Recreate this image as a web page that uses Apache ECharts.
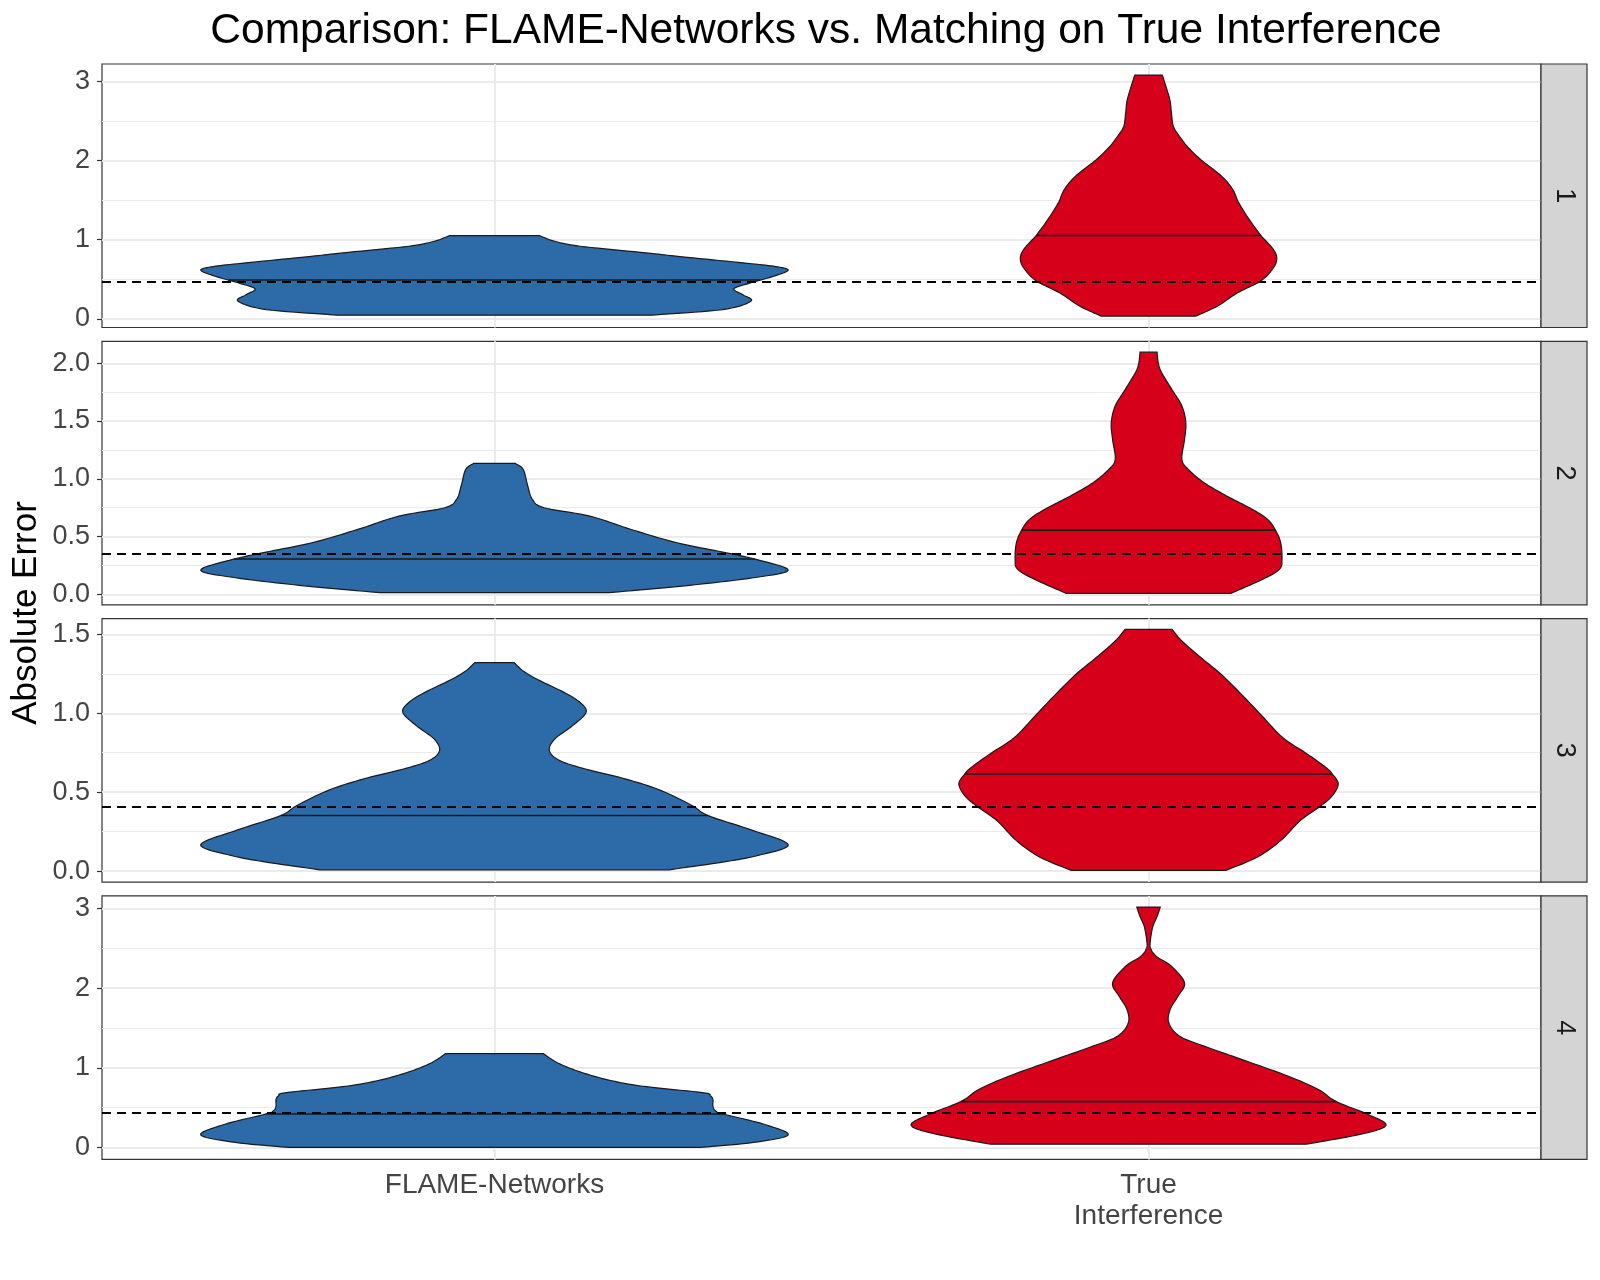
<!DOCTYPE html>
<html>
<head>
<meta charset="utf-8">
<title>Comparison: FLAME-Networks vs. Matching on True Interference</title>
<script src="https://cdn.jsdelivr.net/npm/echarts@6/dist/echarts.min.js"></script>
<style>
  html, body { margin: 0; padding: 0; background: #fff; }
  #chart { width: 1600px; height: 1280px; }
</style>
</head>
<body>
<div id="chart"></div>
<script>
// categories and facets
const groups = ['FLAME-Networks', 'True\nInterference'];
const facets = ['1', '2', '3', '4'];

// y ranges and tick labels per facet
const yMin = [-0.11, -0.09, -0.07, -0.15];
const yMax = [3.22, 2.19, 1.60, 3.16];
const yTicks = [[0, 1, 2, 3], [0, 0.5, 1, 1.5, 2], [0, 0.5, 1, 1.5], [0, 1, 2, 3]];
const yMinor = [[0.5, 1.5, 2.5], [0.25, 0.75, 1.25, 1.75], [0.25, 0.75, 1.25], [0.5, 1.5, 2.5]];
const tickDigits = [0, 1, 1, 0];

// dashed reference line and medians
const hline = [0.465, 0.355, 0.415, 0.426];
const flameMedian = [0.49, 0.306, 0.352, 0.42];
const trueMedian = [1.052, 0.556, 0.615, 0.576];

// violin outlines: error value and half width (in category units)
const flame1Y = [0.046, 0.117, 0.222, 0.303, 0.378, 0.45, 0.538, 0.614, 0.66, 0.707, 0.783, 0.833, 0.917, 0.98, 1.05];
const flame1W = [0.240, 0.349, 0.392, 0.380, 0.366, 0.39, 0.427, 0.449, 0.43, 0.38, 0.287, 0.232, 0.131, 0.092, 0.069];
const true1Y = [0.033, 0.159, 0.328, 0.475, 0.622, 0.749, 0.875, 1.052, 1.254, 1.465, 1.63, 1.80, 2.01, 2.18, 2.31, 2.43, 2.60, 2.75, 2.90, 3.08];
const true1W = [0.072, 0.105, 0.136, 0.171, 0.189, 0.196, 0.191, 0.172, 0.154, 0.138, 0.129, 0.112, 0.080, 0.059, 0.047, 0.038, 0.035, 0.033, 0.028, 0.021];

const flame2Y = [0.015, 0.072, 0.144, 0.21, 0.303, 0.366, 0.447, 0.562, 0.677, 0.75, 0.822, 0.937, 1.081, 1.133];
const flame2W = [0.174, 0.287, 0.396, 0.449, 0.40, 0.349, 0.279, 0.209, 0.146, 0.076, 0.058, 0.051, 0.044, 0.032];
const true2Y = [0.009, 0.13, 0.216, 0.303, 0.447, 0.556, 0.649, 0.735, 0.85, 0.966, 1.08, 1.168, 1.34, 1.485, 1.63, 1.77, 1.92, 2.0, 2.096];
const true2W = [0.126, 0.174, 0.2, 0.204, 0.202, 0.194, 0.182, 0.159, 0.12, 0.085, 0.061, 0.051, 0.055, 0.057, 0.051, 0.036, 0.020, 0.015, 0.013];

const flame3Y = [0.008, 0.057, 0.099, 0.168, 0.267, 0.351, 0.415, 0.51, 0.583, 0.647, 0.70, 0.762, 0.836, 0.92, 1.005, 1.068, 1.131, 1.216, 1.268, 1.321];
const flame3W = [0.267, 0.349, 0.403, 0.449, 0.388, 0.327, 0.302, 0.255, 0.201, 0.139, 0.10, 0.084, 0.092, 0.119, 0.14, 0.131, 0.107, 0.065, 0.044, 0.03];
const true3Y = [0.004, 0.088, 0.193, 0.32, 0.415, 0.478, 0.552, 0.615, 0.657, 0.741, 0.847, 0.994, 1.12, 1.247, 1.353, 1.458, 1.532];
const true3W = [0.118, 0.166, 0.202, 0.232, 0.264, 0.281, 0.29, 0.281, 0.271, 0.243, 0.205, 0.171, 0.142, 0.111, 0.080, 0.051, 0.036];

const flame4Y = [0.0, 0.063, 0.158, 0.292, 0.417, 0.46, 0.52, 0.60, 0.65, 0.689, 0.772, 0.856, 0.96, 1.065, 1.178];
const flame4W = [0.314, 0.396, 0.449, 0.412, 0.351, 0.338, 0.334, 0.334, 0.33, 0.318, 0.224, 0.17, 0.127, 0.096, 0.075];
const true4Y = [0.041, 0.167, 0.279, 0.417, 0.576, 0.731, 0.897, 1.107, 1.273, 1.40, 1.566, 1.733, 1.90, 2.068, 2.276, 2.40, 2.506, 2.61, 2.777, 2.90, 3.02];
const true4W = [0.241, 0.325, 0.363, 0.335, 0.287, 0.259, 0.213, 0.142, 0.085, 0.047, 0.031, 0.033, 0.045, 0.055, 0.035, 0.012, 0.003, 0.003, 0.0066, 0.013, 0.018];

const flameY = [flame1Y, flame2Y, flame3Y, flame4Y];
const flameW = [flame1W, flame2W, flame3W, flame4W];
const trueY = [true1Y, true2Y, true3Y, true4Y];
const trueW = [true1W, true2W, true3W, true4W];

// layout
const FONT = '"Liberation Sans", Arial, Helvetica, sans-serif';
const LEFT = 102, WIDTH = 1439, TOP0 = 64, STEP = 277.3, HEIGHT = 263.5, STRIP_W = 46;
const BLUE = '#2D6AA8', RED = '#D7001B', OUTLINE = '#1a1a1a', AXIS_TEXT = '#444';

// Catmull-Rom through pixel points, just for a smooth outline
function spline(pts, steps) {
    const out = [];
    for (let i = 0; i < pts.length - 1; i++) {
        const p0 = pts[Math.max(i - 1, 0)], p1 = pts[i], p2 = pts[i + 1], p3 = pts[Math.min(i + 2, pts.length - 1)];
        for (let s = 0; s < steps; s++) {
            const t = s / steps, t2 = t * t, t3 = t2 * t;
            const f = (k) => 0.5 * (2 * p1[k] + (p2[k] - p0[k]) * t +
                (2 * p0[k] - 5 * p1[k] + 4 * p2[k] - p3[k]) * t2 +
                (3 * p1[k] - p0[k] - 3 * p2[k] + p3[k]) * t3);
            out.push([f(0), f(1)]);
        }
    }
    out.push(pts[pts.length - 1]);
    return out;
}

function xAtY(path, y) {
    for (let i = 0; i < path.length - 1; i++) {
        const a = path[i], b = path[i + 1];
        if ((a[1] - y) * (b[1] - y) <= 0 && a[1] !== b[1]) {
            return a[0] + (b[0] - a[0]) * (y - a[1]) / (b[1] - a[1]);
        }
    }
    return path[0][0];
}

function violinSeries(panel, pos, ys, ws, median, color) {
    return {
        type: 'custom',
        xAxisIndex: panel,
        yAxisIndex: panel,
        z: 3,
        silent: true,
        clip: false,
        data: [[pos, median]],
        encode: { x: 0, y: 1 },
        renderItem: function (params, api) {
            const x = api.value(0);
            const med = api.value(1);
            const left = spline(ys.map((y, i) => api.coord([x - ws[i], y])), 10);
            const right = spline(ys.map((y, i) => api.coord([x + ws[i], y])), 10);
            const points = left.concat(right.slice().reverse());
            const my = api.coord([x, med])[1];
            return {
                type: 'group',
                children: [
                    {
                        type: 'polygon',
                        shape: { points: points },
                        style: { fill: color, stroke: OUTLINE, lineWidth: 1.2 }
                    },
                    {
                        type: 'line',
                        shape: { x1: xAtY(left, my), y1: my, x2: xAtY(right, my), y2: my },
                        style: { stroke: OUTLINE, lineWidth: 1.6 }
                    }
                ]
            };
        }
    };
}

const grids = [], xAxes = [], yAxes = [], series = [], graphics = [];

facets.forEach((f, i) => {
    const top = TOP0 + i * STEP;
    const bottom = i === facets.length - 1;
    grids.push({
        left: LEFT, top: top, width: WIDTH, height: HEIGHT,
        show: true, backgroundColor: '#fff', borderColor: '#333', borderWidth: 1.2,
        containLabel: false, outerBoundsMode: 'none'
    });
    xAxes.push({
        type: 'value', gridIndex: i, min: 0.4, max: 2.6,
        axisLine: { show: false },
        splitLine: { show: false },
        axisTick: { show: bottom, customValues: [1, 2], length: 5, lineStyle: { color: '#333', width: 1.2 } },
        axisLabel: {
            show: bottom, customValues: [1, 2], margin: 10,
            fontSize: 28, lineHeight: 31, color: AXIS_TEXT, fontFamily: FONT,
            formatter: (v) => groups[Math.round(v) - 1]
        }
    });
    yAxes.push({
        type: 'value', gridIndex: i, min: yMin[i], max: yMax[i],
        axisLine: { show: false },
        splitLine: { show: false },
        axisTick: { show: true, customValues: yTicks[i], length: 5, lineStyle: { color: '#333', width: 1.2 } },
        axisLabel: {
            customValues: yTicks[i], margin: 12,
            fontSize: 27, color: AXIS_TEXT, fontFamily: FONT,
            formatter: (v) => v.toFixed(tickDigits[i])
        }
    });

    // panel grid lines
    series.push({
        type: 'line', xAxisIndex: i, yAxisIndex: i, data: [], silent: true,
        markLine: {
            z: 1, silent: true, animation: false, symbol: ['none', 'none'],
            label: { show: false }, emphasis: { disabled: true },
            lineStyle: { color: '#EBEBEB', type: 'solid', width: 2 },
            data: yTicks[i].map((v) => ({ yAxis: v }))
                .concat(yMinor[i].map((v) => ({ yAxis: v, lineStyle: { color: '#EBEBEB', type: 'solid', width: 1.1 } })))
                .concat([{ xAxis: 1 }, { xAxis: 2 }])
        }
    });

    series.push(violinSeries(i, 1, flameY[i], flameW[i], flameMedian[i], BLUE));
    series.push(violinSeries(i, 2, trueY[i], trueW[i], trueMedian[i], RED));

    // dashed reference line
    series.push({
        type: 'line', xAxisIndex: i, yAxisIndex: i, data: [], silent: true,
        markLine: {
            z: 6, silent: true, animation: false, symbol: ['none', 'none'],
            label: { show: false }, emphasis: { disabled: true },
            lineStyle: { color: '#000', type: [9, 6], width: 1.8 },
            data: [{ yAxis: hline[i] }]
        }
    });

    // facet strip on the right
    graphics.push({
        type: 'rect', z: 10,
        shape: { x: LEFT + WIDTH, y: top, width: STRIP_W, height: HEIGHT },
        style: { fill: '#D4D4D4', stroke: '#333', lineWidth: 1.2 }
    });
    graphics.push({
        type: 'text', z: 11,
        x: LEFT + WIDTH + STRIP_W / 2, y: top + HEIGHT / 2, rotation: -Math.PI / 2,
        style: { text: f, fontSize: 27, fontFamily: FONT, fill: '#1a1a1a', align: 'center', verticalAlign: 'middle' }
    });
});

graphics.push({
    type: 'text', z: 11,
    x: 26, y: 613, rotation: Math.PI / 2,
    style: { text: 'Absolute Error', fontSize: 35, fontFamily: FONT, fill: '#000', align: 'center', verticalAlign: 'middle' }
});

const chart = echarts.init(document.getElementById('chart'), null, { renderer: 'canvas' });
chart.setOption({
    animation: false,
    backgroundColor: '#fff',
    textStyle: { fontFamily: FONT },
    title: {
        text: 'Comparison: FLAME-Networks vs. Matching on True Interference',
        left: 821, top: 5, textAlign: 'center',
        textStyle: { fontSize: 42.5, fontWeight: 'normal', color: '#000', fontFamily: FONT }
    },
    grid: grids,
    xAxis: xAxes,
    yAxis: yAxes,
    series: series,
    graphic: graphics
});
</script>
</body>
</html>
